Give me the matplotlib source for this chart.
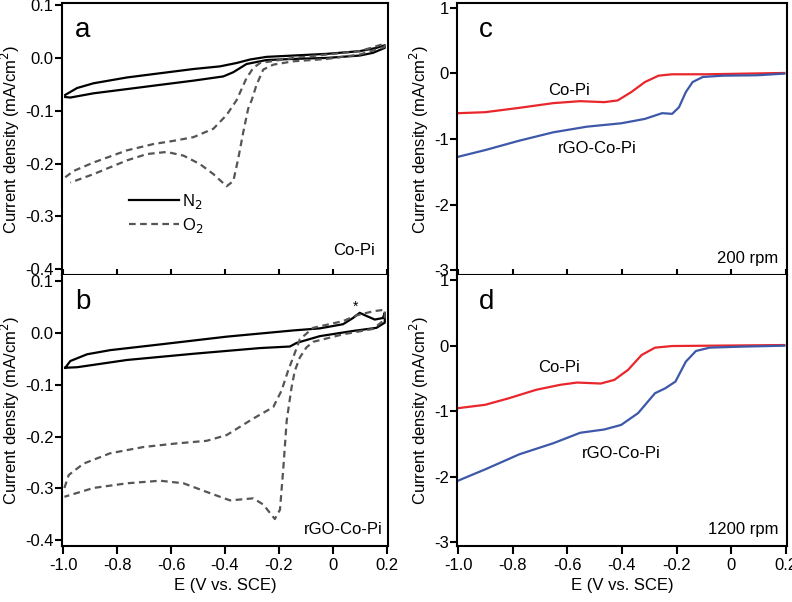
import matplotlib
matplotlib.use("Agg")
import matplotlib.pyplot as plt
from matplotlib.lines import Line2D

plt.rcParams['font.family'] = ['Liberation Sans', 'DejaVu Sans']
plt.rcParams['axes.unicode_minus'] = False

# ---- data ----
x_ticks = [-1.0, -0.8, -0.6, -0.4, -0.2, 0.0, 0.2]
x_tick_labels = ["-1.0", "-0.8", "-0.6", "-0.4", "-0.2", "0", "0.2"]
cv_ticks = [0.1, 0.0, -0.1, -0.2, -0.3, -0.4]
cv_tick_labels = ["0.1", "0.0", "-0.1", "-0.2", "-0.3", "-0.4"]
lsv_ticks = [1, 0, -1, -2, -3]
lsv_tick_labels = ["1", "0", "-1", "-2", "-3"]

# panel a, Co-Pi, N2 (closed loop)
a_n2_E = [-0.993, -0.949, -0.888, -0.764, -0.641, -0.517, -0.419, -0.357, -0.307, -0.246, -0.147,
          -0.023, 0.1, 0.162, 0.193,
          0.193, 0.149, 0.1, -0.023, -0.147, -0.246, -0.32, -0.369, -0.406, -0.517, -0.641,
          -0.764, -0.888, -0.974, -0.993]
a_n2_j = [-0.070, -0.057, -0.048, -0.037, -0.029, -0.021, -0.016, -0.0096, -0.003, 0.002, 0.0045,
          0.0077, 0.0128, 0.019, 0.024,
          0.019, 0.0096, 0.0045, 0.0, -0.0019, -0.004, -0.0115, -0.027, -0.035, -0.043, -0.051,
          -0.059, -0.067, -0.075, -0.074]
# panel a, Co-Pi, O2
a_o2_E = [-0.993, -0.962, -0.888, -0.764, -0.665, -0.591, -0.517, -0.443, -0.394, -0.357, -0.32,
          -0.295, -0.27, -0.147, -0.023, 0.1, 0.193,
          0.193, 0.1, -0.023, -0.147, -0.221, -0.258, -0.283, -0.301, -0.314, -0.332, -0.351,
          -0.369, -0.394, -0.443, -0.493, -0.554, -0.616, -0.69, -0.764, -0.888, -0.974]
a_o2_j = [-0.226, -0.214, -0.198, -0.175, -0.163, -0.157, -0.150, -0.134, -0.108, -0.080, -0.038,
          -0.019, -0.0096, 0.0, 0.0064, 0.0128, 0.027,
          0.021, 0.0064, -0.002, -0.0064, -0.0128, -0.022, -0.051, -0.080, -0.096, -0.140, -0.191,
          -0.233, -0.243, -0.220, -0.201, -0.185, -0.178, -0.182, -0.194, -0.220, -0.236]

# panel b, rGO-Co-Pi, N2
b_n2_E = [-0.993, -0.974, -0.912, -0.826, -0.641, -0.394, -0.147, -0.048, 0.038, 0.075, 0.1,
          0.125, 0.156, 0.186, 0.193,
          0.193, 0.162, 0.075, -0.048, -0.134, -0.159, -0.27, -0.517, -0.764, -0.949, -0.993]
b_n2_j = [-0.067, -0.054, -0.041, -0.033, -0.022, -0.007, 0.005, 0.009, 0.017, 0.029, 0.039,
          0.033, 0.026, 0.029, 0.039,
          0.020, 0.010, 0.004, -0.006, -0.019, -0.026, -0.029, -0.040, -0.052, -0.066, -0.067]
# panel b, rGO-Co-Pi, O2
b_o2_E = [-0.996, -0.98, -0.925, -0.826, -0.703, -0.579, -0.468, -0.394, -0.295, -0.221, -0.19,
          -0.166, -0.147, -0.122, -0.073, 0.038, 0.088, 0.15, 0.193,
          0.193, 0.15, 0.038, -0.073, -0.098, -0.122, -0.141, -0.153, -0.171, -0.184, -0.196,
          -0.215, -0.258, -0.295, -0.381, -0.456, -0.554, -0.641, -0.764, -0.888, -0.996]
b_o2_j = [-0.299, -0.274, -0.252, -0.232, -0.220, -0.213, -0.208, -0.197, -0.165, -0.143, -0.111,
          -0.073, -0.047, -0.012, 0.010, 0.023, 0.034, 0.042, 0.045,
          0.026, 0.008, -0.0025, -0.017, -0.028, -0.047, -0.073, -0.105, -0.169, -0.264, -0.341,
          -0.359, -0.331, -0.319, -0.323, -0.309, -0.290, -0.285, -0.290, -0.299, -0.316]

# panel c, 200 rpm
c_copi_E = [-1.0, -0.902, -0.777, -0.652, -0.553, -0.465, -0.416, -0.366, -0.316, -0.266, -0.216,
            -0.091, 0.195]
c_copi_j = [-0.607, -0.592, -0.526, -0.454, -0.424, -0.439, -0.413, -0.286, -0.133, -0.036, -0.015,
            -0.015, 0.005]
c_rgo_E = [-1.0, -0.902, -0.777, -0.652, -0.528, -0.403, -0.316, -0.253, -0.216, -0.191, -0.166,
           -0.141, -0.104, -0.029, 0.095, 0.195]
c_rgo_j = [-1.27, -1.169, -1.026, -0.898, -0.812, -0.761, -0.694, -0.607, -0.617, -0.516, -0.286,
           -0.133, -0.056, -0.036, -0.03, -0.005]

# panel d, 1200 rpm
d_copi_E = [-1.0, -0.902, -0.814, -0.715, -0.627, -0.565, -0.478, -0.428, -0.378, -0.328, -0.279,
            -0.216, 0.195]
d_copi_j = [-0.954, -0.903, -0.802, -0.674, -0.598, -0.563, -0.578, -0.522, -0.370, -0.142, -0.030,
            -0.005, 0.01]
d_rgo_E = [-1.0, -0.902, -0.777, -0.652, -0.553, -0.465, -0.403, -0.341, -0.279, -0.241, -0.204,
           -0.166, -0.129, -0.079, 0.033, 0.195]
d_rgo_j = [-2.06, -1.89, -1.66, -1.49, -1.33, -1.28, -1.21, -1.03, -0.726, -0.650, -0.548,
           -0.244, -0.081, -0.030, -0.015, 0.0]

RED = '#e8262b'
BLUE = '#3d58a8'
GRAY = '#555555'
W, H = 792, 602
FS = 12


def px_axes(fig, x0, y0, x1, y1):
    return fig.add_axes([x0 / W, 1 - y1 / H, (x1 - x0) / W, (y1 - y0) / H])


def style(ax, yticks, ylabels, bottom):
    for s in ['left', 'right', 'bottom', 'top']:
        ax.spines[s].set_linewidth(1.5)
    if bottom:
        ax.spines['top'].set_visible(False)
    ax.set_xticks(x_ticks)
    ax.set_yticks(yticks)
    ax.set_yticklabels(ylabels, fontsize=FS)
    ax.tick_params(axis='y', direction='out', length=5, width=1.5, pad=1)
    if bottom:
        ax.set_xticklabels(x_tick_labels, fontsize=FS)
        ax.tick_params(axis='x', direction='out', length=6, width=1.5, pad=3)
        ax.set_xlabel("E (V vs. SCE)", fontsize=FS, labelpad=3)
    else:
        ax.tick_params(axis='x', direction='inout', length=9, width=1.5, labelbottom=False)
    ax.set_ylabel("Current density (mA/cm$^2$)", fontsize=FS, labelpad=2)
    ax.set_xlim(-1.005, 0.205)


fig = plt.figure(figsize=(W / 100, H / 100), dpi=100)

ax_a = px_axes(fig, 62, 3, 388, 275)
ax_b = px_axes(fig, 62, 275, 388, 546)
ax_c = px_axes(fig, 457, 3, 787, 275)
ax_d = px_axes(fig, 457, 275, 787, 546)

dash = (0, (3, 2))

# panel a
ax_a.plot(a_n2_E, a_n2_j, color='black', lw=1.6)
ax_a.plot(a_o2_E, a_o2_j, color=GRAY, lw=1.6, linestyle=dash)
ax_a.set_ylim(-0.411, 0.104)
style(ax_a, cv_ticks, cv_tick_labels, bottom=False)
handles = [Line2D([], [], color='black', lw=1.6),
           Line2D([], [], color=GRAY, lw=1.6, linestyle=dash)]
ax_a.legend(handles, ["N$_2$", "O$_2$"], loc='upper left', bbox_to_anchor=(0.16, 0.36),
            frameon=False, fontsize=FS, handlelength=3.0, handletextpad=0.15, labelspacing=0.3)
ax_a.text(0.04, 0.9, "a", transform=ax_a.transAxes, fontsize=20, va='center')
ax_a.text(0.96, 0.09, "Co-Pi", transform=ax_a.transAxes, fontsize=FS, ha='right', va='center')

# panel b
ax_b.plot(b_n2_E, b_n2_j, color='black', lw=1.6)
ax_b.plot(b_o2_E, b_o2_j, color=GRAY, lw=1.6, linestyle=dash)
ax_b.set_ylim(-0.411, 0.112)
style(ax_b, cv_ticks, cv_tick_labels, bottom=True)
ax_b.text(0.04, 0.9, "b", transform=ax_b.transAxes, fontsize=20, va='center')
ax_b.text(0.985, 0.06, "rGO-Co-Pi", transform=ax_b.transAxes, fontsize=FS, ha='right', va='center')
ax_b.text(0.086, 0.050, "*", fontsize=10, ha='center', va='center')

# panel c
ax_c.plot(c_copi_E, c_copi_j, color=RED, lw=1.6)
ax_c.plot(c_rgo_E, c_rgo_j, color=BLUE, lw=1.6)
ax_c.set_ylim(-3.07, 1.07)
style(ax_c, lsv_ticks, lsv_tick_labels, bottom=False)
ax_c.text(0.065, 0.9, "c", transform=ax_c.transAxes, fontsize=20, va='center')
ax_c.text(-0.595, -0.255, "Co-Pi", fontsize=FS, ha='center', va='center')
ax_c.text(-0.489, -1.15, "rGO-Co-Pi", fontsize=FS, ha='center', va='center')
ax_c.text(0.973, 0.06, "200 rpm", transform=ax_c.transAxes, fontsize=FS, ha='right', va='center')

# panel d
ax_d.plot(d_copi_E, d_copi_j, color=RED, lw=1.6)
ax_d.plot(d_rgo_E, d_rgo_j, color=BLUE, lw=1.6)
ax_d.set_ylim(-3.06, 1.08)
style(ax_d, lsv_ticks, lsv_tick_labels, bottom=True)
ax_d.text(0.065, 0.9, "d", transform=ax_d.transAxes, fontsize=20, va='center')
ax_d.text(-0.632, -0.33, "Co-Pi", fontsize=FS, ha='center', va='center')
ax_d.text(-0.402, -1.65, "rGO-Co-Pi", fontsize=FS, ha='center', va='center')
ax_d.text(0.973, 0.06, "1200 rpm", transform=ax_d.transAxes, fontsize=FS, ha='right', va='center')

fig.savefig("out.png", dpi=100)
